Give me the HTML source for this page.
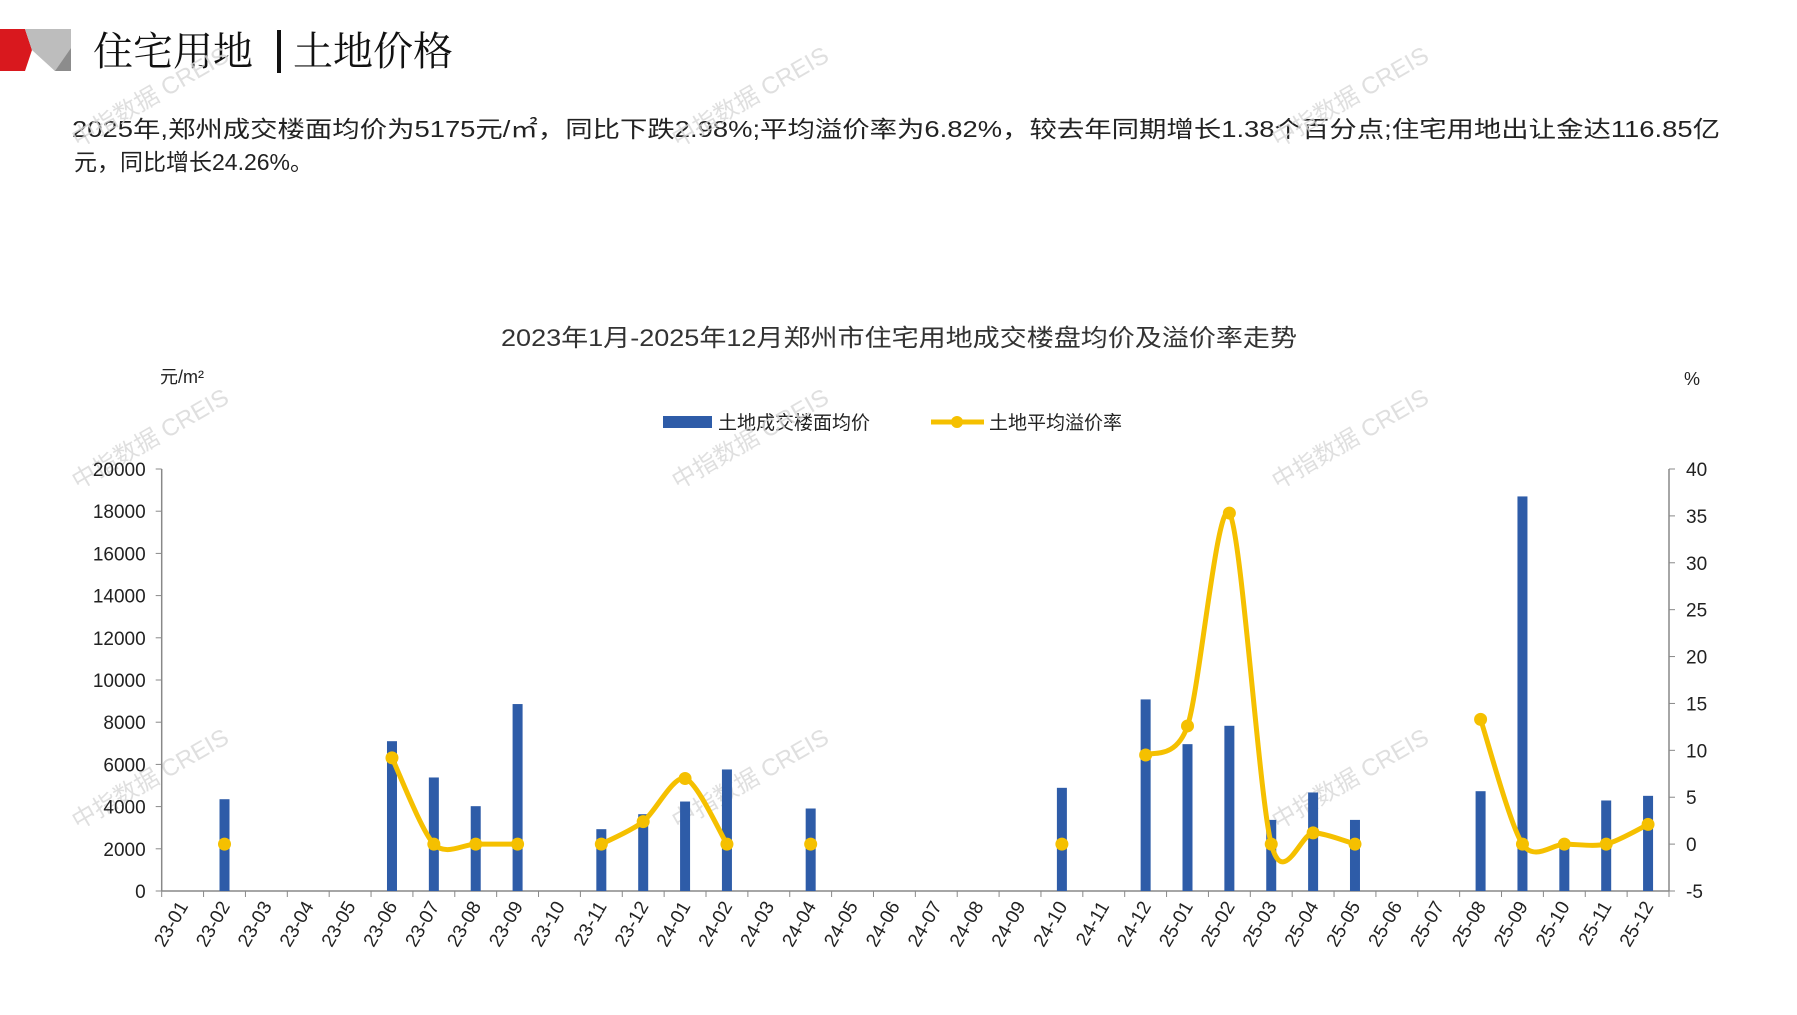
<!DOCTYPE html>
<html><head><meta charset="utf-8">
<style>
html,body{margin:0;padding:0;background:#fff;}
body{width:1797px;height:1010px;overflow:hidden;position:relative;font-family:"Liberation Sans","Noto Sans CJK SC",sans-serif;}
svg text{font-family:"Liberation Sans","Noto Sans CJK SC",sans-serif;}
</style></head>
<body>
<svg id="s" width="1797" height="1010" xmlns="http://www.w3.org/2000/svg">
<polygon points="0,29 25,29 32,50 25,71 0,71" fill="#d9181e"/>
<polygon points="25,29 71,29 71,71 55,71 32,50" fill="#d2d2d2"/>
<polygon points="25,29 71,29 71,48 55,71 32,50" fill="#bdbdbd"/>
<polygon points="55,71 71,48 71,71" fill="#8c8c8c"/>
<text x="93" y="65" font-size="40" fill="#111" style="font-family:'Noto Serif CJK SC',serif">住宅用地</text>
<rect x="277" y="30" width="4" height="43" fill="#111"/>
<text x="293" y="65" font-size="40" fill="#111" style="font-family:'Noto Serif CJK SC',serif">土地价格</text>
<text x="72" y="137" font-size="23" fill="#222" textLength="1648" lengthAdjust="spacingAndGlyphs">2025年,郑州成交楼面均价为5175元/㎡，同比下跌2.98%;平均溢价率为6.82%，较去年同期增长1.38个百分点;住宅用地出让金达116.85亿</text>
<text x="74" y="170" font-size="23" fill="#222">元，同比增长24.26%。</text>
<text x="899" y="346" font-size="24" fill="#333" text-anchor="middle" textLength="796" lengthAdjust="spacingAndGlyphs">2023年1月-2025年12月郑州市住宅用地成交楼盘均价及溢价率走势</text>
<text x="160" y="383" font-size="18" fill="#222">元/m²</text>
<text x="1684" y="385" font-size="18" fill="#222">%</text>
<rect x="663" y="416" width="49" height="12" fill="#2e5ca8"/>
<text x="718" y="429" font-size="19" fill="#222">土地成交楼面均价</text>
<line x1="931" y1="422" x2="984" y2="422" stroke="#f5c000" stroke-width="5"/>
<circle cx="957" cy="422" r="6" fill="#f5c000"/>
<text x="989" y="429" font-size="19" fill="#222">土地平均溢价率</text>
<g id="g"></g>
</svg>
<script>
const g=document.getElementById('g');let h='';
const L=161.7,R=1669,T=469,B=891,step=(R-L)/36;
const yL=v=>B-(v/20000)*(B-T), yR=p=>B-((p+5)/45)*(B-T);
const cx=i=>L+step*(i+0.5);
[[78,148],[678,148],[1278,148],[78,490],[678,490],[1278,490],[78,830],[678,830],[1278,830]].forEach(([x,y])=>{h+=`<text x="${x}" y="${y}" font-size="24" fill="#d8d8d8" opacity="0.8" transform="rotate(-30 ${x} ${y})">中指数据 CREIS</text>`;});
h+=`<line x1="${L}" y1="${T}" x2="${L}" y2="${B}" stroke="#888" stroke-width="1.5"/>`;
h+=`<line x1="${R}" y1="${T}" x2="${R}" y2="${B}" stroke="#888" stroke-width="1.5"/>`;
h+=`<line x1="${L}" y1="${B}" x2="${R}" y2="${B}" stroke="#888" stroke-width="1.5"/>`;
for(let v=0;v<=20000;v+=2000){const y=yL(v);h+=`<line x1="${L-6}" y1="${y}" x2="${L}" y2="${y}" stroke="#888"/><text x="${L-16}" y="${y+7}" font-size="19" fill="#222" text-anchor="end">${v}</text>`;}
for(let p=-5;p<=40;p+=5){const y=yR(p);h+=`<line x1="${R}" y1="${y}" x2="${R+6}" y2="${y}" stroke="#888"/><text x="${R+17}" y="${y+7}" font-size="19" fill="#222">${p}</text>`;}
const labs=[];for(let y=23;y<=25;y++)for(let m=1;m<=12;m++)labs.push(y+'-'+String(m).padStart(2,'0'));
for(let i=0;i<=36;i++){const x=L+step*i;h+=`<line x1="${x}" y1="${B}" x2="${x}" y2="${B+6}" stroke="#888"/>`;}
labs.forEach((l,i)=>{const x=cx(i)+6,y=B+15;h+=`<text x="${x}" y="${y}" font-size="19" fill="#222" text-anchor="end" transform="rotate(-60 ${x} ${y})">${l}</text>`;});
const bars={1:4350,5:7100,6:5380,7:4020,8:8860,10:2930,11:3640,12:4240,13:5760,15:3910,21:4890,23:9080,24:6960,25:7830,26:3370,27:4670,28:3370,31:4730,32:18700,33:2300,34:4290,35:4510};
for(const k in bars){const x=cx(+k),y=yL(bars[k]);h+=`<rect x="${x-5}" y="${y}" width="10" height="${B-y}" fill="#2e5ca8"/>`;}
const segs=[[[5,9.2],[6,0],[7,0],[8,0]],[[10,0],[11,2.4],[12,7],[13,0]],[[23,9.5],[24,12.6],[25,35.3],[26,0],[27,1.2],[28,0]],[[31,13.3],[32,0],[33,0],[34,0],[35,2.1]]];
const iso=[[1,0],[15,0],[21,0]];
const C='#f5c000';
segs.forEach(s=>{const P=s.map(([i,p])=>[cx(i),yR(p)]);let d=`M${P[0][0]},${P[0][1]}`;
for(let i=0;i<P.length-1;i++){const p0=P[i-1]||P[i],p1=P[i],p2=P[i+1],p3=P[i+2]||P[i+1];
const k=7;
const c1=[p1[0]+(p2[0]-p0[0])/k,p1[1]+(p2[1]-p0[1])/k],c2=[p2[0]-(p3[0]-p1[0])/k,p2[1]-(p3[1]-p1[1])/k];
d+=` C${c1[0]},${c1[1]} ${c2[0]},${c2[1]} ${p2[0]},${p2[1]}`;}
h+=`<path d="${d}" fill="none" stroke="${C}" stroke-width="5" stroke-linejoin="round"/>`;
P.forEach(p=>h+=`<circle cx="${p[0]}" cy="${p[1]}" r="6.5" fill="${C}"/>`);});
iso.forEach(([i,p])=>h+=`<circle cx="${cx(i)}" cy="${yR(p)}" r="6.5" fill="${C}"/>`);
g.innerHTML=h;
</script>
</body></html>
